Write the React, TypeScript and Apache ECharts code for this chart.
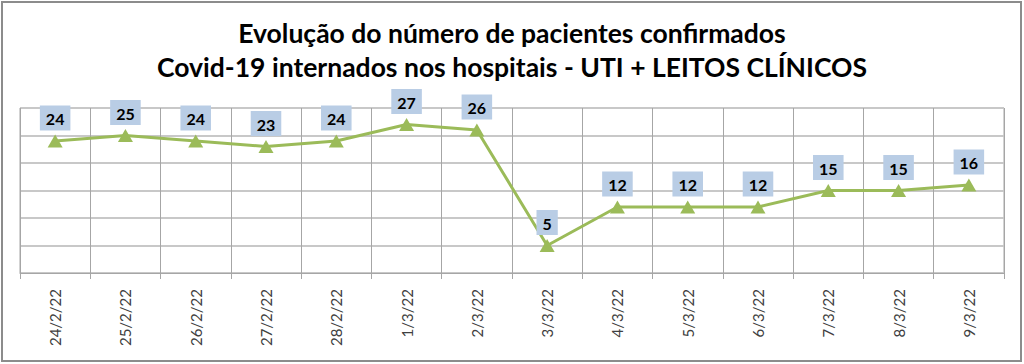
import React, { useEffect, useRef } from "react";
import * as echarts from "echarts";

const categories = ["24/2/22", "25/2/22", "26/2/22", "27/2/22", "28/2/22", "1/3/22", "2/3/22", "3/3/22", "4/3/22", "5/3/22", "6/3/22", "7/3/22", "8/3/22", "9/3/22"];
const values = [24, 25, 24, 23, 24, 27, 26, 5, 12, 12, 12, 15, 15, 16];
const titleLines = ["Evolução do número de pacientes confirmados", "Covid-19 internados nos hospitais - UTI + LEITOS CLÍNICOS"];

export default function App() {
  const ref = useRef<HTMLDivElement>(null);
  useEffect(() => {
    const chart = echarts.init(ref.current!, null, { renderer: "svg" });
    chart.setOption({
      animation: false,
      backgroundColor: "#ffffff",
      graphic: [
        {
          type: "rect",
          shape: { x: 2, y: 2, width: 1019, height: 359 },
          style: { fill: "none", stroke: "#8c8c8c", lineWidth: 2 },
          silent: true,
        },
      ],
      title: {
        text: titleLines.join("\n"),
        left: "center",
        top: 11,
        textStyle: {
          fontFamily: "Lato, 'Open Sans', sans-serif",
          fontSize: 26.5,
          fontWeight: "bold",
          color: "#000000",
          lineHeight: 34,
        },
      },
      grid: { left: 20, right: 20, top: 108, bottom: 91, show: true, borderColor: "#a6a6a6", borderWidth: 1 },
      xAxis: {
        type: "category",
        data: categories,
        boundaryGap: true,
        axisLine: { show: true, lineStyle: { color: "#a6a6a6", width: 1 } },
        axisTick: { show: true, length: 6, lineStyle: { color: "#a6a6a6" } },
        splitLine: { show: true, lineStyle: { color: "#a6a6a6", width: 1 } },
        axisLabel: {
          rotate: 90,
          margin: 16,
          color: "#404040",
          fontSize: 15,
          fontFamily: "Lato, 'Open Sans', sans-serif",
        },
      },
      yAxis: {
        type: "value",
        min: 0,
        max: 30,
        interval: 5,
        axisLabel: { show: false },
        axisLine: { show: false },
        axisTick: { show: false },
        splitLine: { show: true, lineStyle: { color: "#c8c8c8", width: 2 } },
      },
      series: [
        {
          type: "line",
          data: values,
          symbol: "triangle",
          symbolSize: [15, 13],
          lineStyle: { color: "#9BBB59", width: 3 },
          itemStyle: { color: "#9BBB59" },
          label: {
            show: true,
            position: "top",
            distance: 4,
            color: "#000000",
            fontWeight: "bold",
            fontSize: 16,
            fontFamily: "Lato, 'Open Sans', sans-serif",
            backgroundColor: "#B9CDE5",
            padding: [5, 6, 4, 6],
          },
        },
      ],
    });
    return () => chart.dispose();
  }, []);
  return <div ref={ref} style={{ width: 1024, height: 364, position: "absolute", left: 0, top: 0 }} />;
}
